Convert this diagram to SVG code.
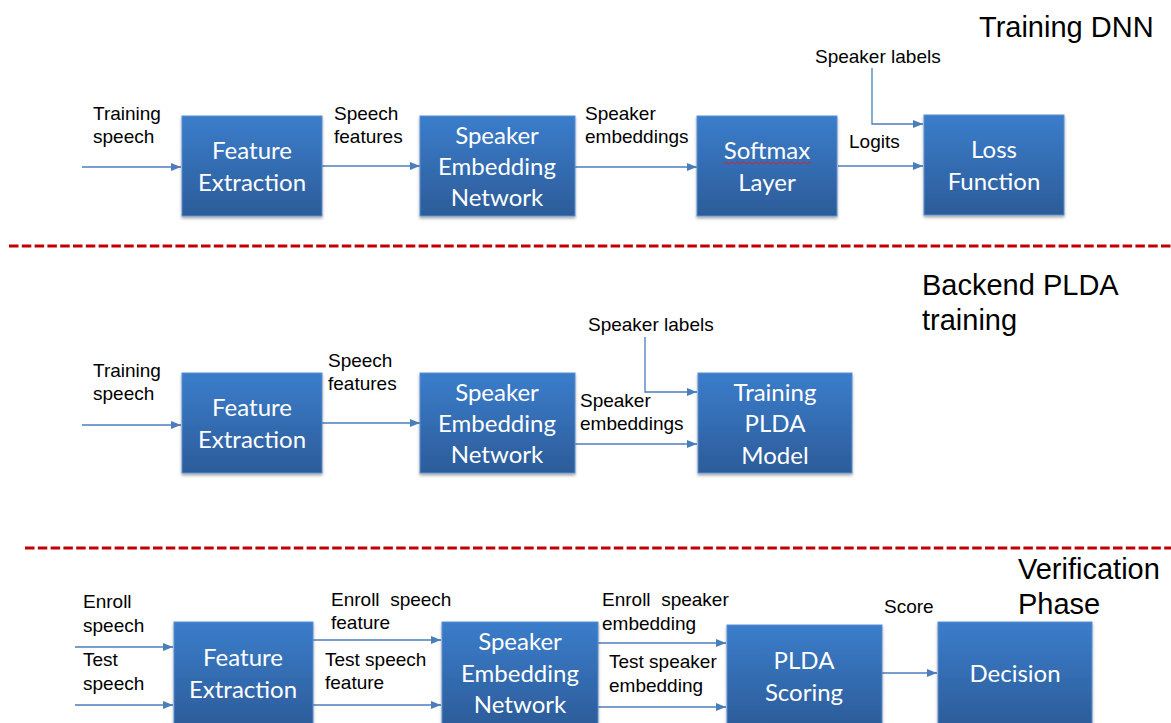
<svg xmlns="http://www.w3.org/2000/svg" width="1171" height="723" viewBox="0 0 1171 723">
<defs>
<linearGradient id="bg" x1="0" y1="0" x2="0" y2="1">
<stop offset="0" stop-color="#3B7DCB"/>
<stop offset="1" stop-color="#2C5C99"/>
</linearGradient>
<filter id="sh" x="-10%" y="-10%" width="120%" height="125%">
<feDropShadow dx="0" dy="2" stdDeviation="1.5" flood-color="#000" flood-opacity="0.35"/>
</filter>
<marker id="ah" markerWidth="10" markerHeight="8" refX="10" refY="4" orient="auto" markerUnits="userSpaceOnUse">
<path d="M0,0 L10,4 L0,8 Z" fill="#4A7EBB"/>
</marker>
</defs>
<style>
.box{fill:url(#bg);stroke:#5A8FD0;stroke-width:1;filter:url(#sh)}
.bt{font-family:Lato,"Open Sans",sans-serif;font-size:24px;fill:#fff;text-anchor:middle}
.lb{font-family:"Liberation Sans",Arial,sans-serif;font-size:19px;fill:#000}
.tt{font-family:"Liberation Sans",Arial,sans-serif;font-size:29px;fill:#000}
.ln{fill:none;stroke:#4A7EBB;stroke-width:1.3}
.ar{marker-end:url(#ah)}
.dash{stroke:#C00000;stroke-width:3;stroke-dasharray:9.5 3.3;fill:none}
</style>
<rect width="1171" height="723" fill="#fff"/>

<g id="separators">
<line class="dash" x1="9" y1="246" x2="1171" y2="246"/>
<line class="dash" x1="25" y1="548" x2="1171" y2="548"/>
</g>

<g id="titles">
<text class="tt" x="979" y="37">Training DNN</text>
<text class="tt" x="922" y="295">Backend PLDA</text>
<text class="tt" x="922" y="330">training</text>
<text class="tt" x="1018" y="579">Verification</text>
<text class="tt" x="1018" y="614">Phase</text>
</g>

<g id="connectors">
<line class="ln ar" x1="82" y1="167" x2="181" y2="167"/>
<line class="ln ar" x1="322" y1="166" x2="420" y2="166"/>
<line class="ln ar" x1="575" y1="167" x2="697" y2="167"/>
<line class="ln ar" x1="838" y1="166" x2="923" y2="166"/>
<polyline class="ln ar" points="872,68 872,124 923,124"/>

<line class="ln ar" x1="82" y1="425" x2="181" y2="425"/>
<line class="ln ar" x1="322" y1="423" x2="420" y2="423"/>
<polyline class="ln ar" points="645,337 645,392 697,392"/>
<line class="ln ar" x1="575" y1="444" x2="697" y2="444"/>

<line class="ln ar" x1="75" y1="647" x2="173" y2="647"/>
<line class="ln ar" x1="75" y1="705" x2="173" y2="705"/>
<line class="ln ar" x1="313" y1="640" x2="441" y2="640"/>
<line class="ln ar" x1="313" y1="705" x2="441" y2="705"/>
<line class="ln ar" x1="598" y1="643" x2="726" y2="643"/>
<line class="ln ar" x1="598" y1="707" x2="726" y2="707"/>
<line class="ln ar" x1="882" y1="673" x2="937" y2="673"/>
</g>

<g id="labels">
<text class="lb" x="93" y="120">Training</text>
<text class="lb" x="93" y="143">speech</text>
<text class="lb" x="334" y="120">Speech</text>
<text class="lb" x="334" y="143">features</text>
<text class="lb" x="585" y="120">Speaker</text>
<text class="lb" x="585" y="143">embeddings</text>
<text class="lb" x="815" y="63">Speaker labels</text>
<text class="lb" x="849" y="148">Logits</text>

<text class="lb" x="93" y="377">Training</text>
<text class="lb" x="93" y="400">speech</text>
<text class="lb" x="328" y="367">Speech</text>
<text class="lb" x="328" y="390">features</text>
<text class="lb" x="588" y="331">Speaker labels</text>
<text class="lb" x="580" y="407">Speaker</text>
<text class="lb" x="580" y="430">embeddings</text>

<text class="lb" x="83" y="608">Enroll</text>
<text class="lb" x="83" y="632">speech</text>
<text class="lb" x="83" y="666">Test</text>
<text class="lb" x="83" y="690">speech</text>
<text class="lb" x="331" y="606" xml:space="preserve">Enroll  speech</text>
<text class="lb" x="331" y="629">feature</text>
<text class="lb" x="325" y="666">Test speech</text>
<text class="lb" x="325" y="689">feature</text>
<text class="lb" x="602" y="606" xml:space="preserve">Enroll  speaker</text>
<text class="lb" x="602" y="630">embedding</text>
<text class="lb" x="609" y="668">Test speaker</text>
<text class="lb" x="609" y="692">embedding</text>
<text class="lb" x="884" y="613">Score</text>
</g>

<g id="fe1"><rect class="box" x="182" y="116" width="140" height="100"/>
<text class="bt" x="252" y="159">Feature</text><text class="bt" x="252" y="191">Extraction</text></g>
<g id="sen1"><rect class="box" x="420" y="116" width="155" height="100"/>
<text class="bt" x="497" y="144">Speaker</text><text class="bt" x="497" y="175">Embedding</text><text class="bt" x="497" y="206">Network</text></g>
<g id="softmax"><rect class="box" x="697" y="116" width="140" height="100"/>
<text class="bt" x="767" y="159">Softmax</text><text class="bt" x="767" y="191">Layer</text>
<path d="M724,163 q1.5,-2 3,0 t3,0 t3,0 t3,0 t3,0 t3,0 t3,0 t3,0 t3,0 t3,0 t3,0 t3,0 t3,0 t3,0 t3,0 t3,0 t3,0 t3,0 t3,0 t3,0 t3,0 t3,0 t3,0 t3,0 t3,0 t3,0 t3,0 t3,0 t3,0" fill="none" stroke="#E02020" stroke-width="1"/></g>
<g id="loss"><rect class="box" x="924" y="115" width="140" height="100"/>
<text class="bt" x="994" y="158">Loss</text><text class="bt" x="994" y="190">Function</text></g>

<g id="fe2"><rect class="box" x="182" y="373" width="140" height="100"/>
<text class="bt" x="252" y="416">Feature</text><text class="bt" x="252" y="448">Extraction</text></g>
<g id="sen2"><rect class="box" x="420" y="373" width="155" height="100"/>
<text class="bt" x="497" y="401">Speaker</text><text class="bt" x="497" y="432">Embedding</text><text class="bt" x="497" y="463">Network</text></g>
<g id="plda_train"><rect class="box" x="698" y="373" width="154" height="100"/>
<text class="bt" x="775" y="401">Training</text><text class="bt" x="775" y="432">PLDA</text><text class="bt" x="775" y="464">Model</text></g>

<g id="fe3"><rect class="box" x="174" y="622" width="139" height="106"/>
<text class="bt" x="243" y="666">Feature</text><text class="bt" x="243" y="698">Extraction</text></g>
<g id="sen3"><rect class="box" x="442" y="622" width="156" height="106"/>
<text class="bt" x="520" y="650">Speaker</text><text class="bt" x="520" y="682">Embedding</text><text class="bt" x="520" y="713">Network</text></g>
<g id="plda_score"><rect class="box" x="727" y="625" width="155" height="103"/>
<text class="bt" x="804" y="669">PLDA</text><text class="bt" x="804" y="701">Scoring</text></g>
<g id="decision"><rect class="box" x="938" y="622" width="154" height="106"/>
<text class="bt" x="1015" y="682">Decision</text></g>
</svg>
